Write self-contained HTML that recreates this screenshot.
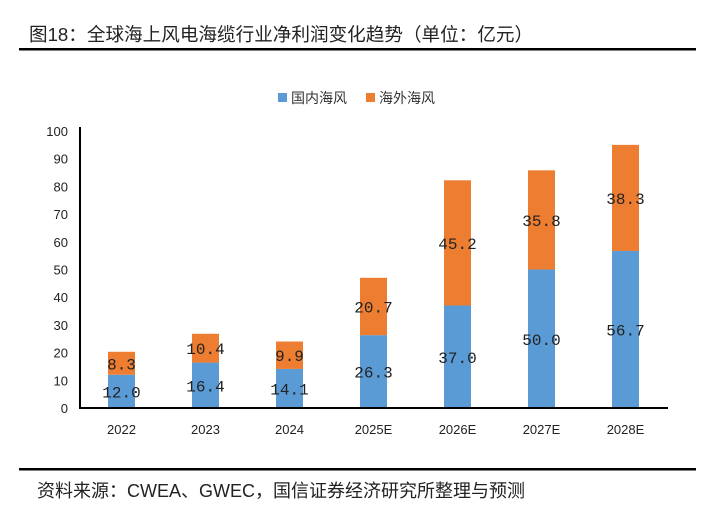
<!DOCTYPE html>
<html><head><meta charset="utf-8"><style>
body{margin:0;background:#fff;}
svg text{font-family:"Liberation Sans","Noto Sans CJK SC",sans-serif;}
svg text.val{font-family:"Liberation Mono",monospace;}
</style></head><body>
<svg width="714" height="516" xmlns="http://www.w3.org/2000/svg">
<text x="29" y="41" font-size="18.6" fill="#222">图18：全球海上风电海缆行业净利润变化趋势（单位：亿元）</text>
<rect x="19" y="48" width="677" height="2.5" fill="#000"/>
<g>
<rect x="278" y="93" width="9" height="9" fill="#5b9bd5"/>
<text x="291" y="103" font-size="14" fill="#333">国内海风</text>
<rect x="366" y="93" width="9" height="9" fill="#ed7d31"/>
<text x="379" y="103" font-size="14" fill="#333">海外海风</text>
</g>
<g id="plot"></g>
<rect x="19" y="468" width="677" height="2.5" fill="#000"/>
<text x="37" y="497" font-size="18" fill="#222">资料来源：CWEA、GWEC，国信证券经济研究所整理与预测</text>
</svg>
<script>
const categories=["2022","2023","2024","2025E","2026E","2027E","2028E"];
const domestic=[12.0,16.4,14.1,26.3,37.0,50.0,56.7];
const overseas=[8.3,10.4,9.9,20.7,45.2,35.8,38.3];
const yTicks=[0,10,20,30,40,50,60,70,80,90,100];
const NS="http://www.w3.org/2000/svg";
const g=document.getElementById('plot');
const x0=80,step=84,bw=27,y0=408,yTop=131;
function y(v){return y0-(v/100)*(y0-yTop);}
function xc(i){return x0+step*(i+0.5)-0.5;}
function mk(t,a){const e=document.createElementNS(NS,t);for(const k in a)e.setAttribute(k,a[k]);g.appendChild(e);return e;}
yTicks.forEach(v=>{
 const t=mk('text',{x:68,y:y(v)+5,'font-size':13,fill:'#222','text-anchor':'end'});
 t.textContent=v;
 
 
});
categories.forEach((c,i)=>{
 const cx=xc(i);
 const b1=mk('rect',{x:cx-bw/2,y:y(domestic[i]),width:bw,height:y0-y(domestic[i]),fill:'#5b9bd5'});
 
 
 const top=domestic[i]+overseas[i];
 const b2=mk('rect',{x:cx-bw/2,y:y(top),width:bw,height:y(domestic[i])-y(top),fill:'#ed7d31'});
 
 
 const l1=mk('text',{class:'val',x:cx,y:(y0+y(domestic[i]))/2+6,'font-size':16,fill:'#222','text-anchor':'middle'});
 l1.textContent=domestic[i].toFixed(1);
 
 
 const l2=mk('text',{class:'val',x:cx,y:(y(domestic[i])+y(top))/2+6,'font-size':16,fill:'#222','text-anchor':'middle'});
 l2.textContent=overseas[i].toFixed(1);
 
 
 const xl=mk('text',{x:cx,y:434,'font-size':13,fill:'#222','text-anchor':'middle'});
 xl.textContent=c;
 
 
});
const ya=mk('line',{x1:x0,y1:yTop-4,x2:x0,y2:y0+1,stroke:'#000','stroke-width':2});


const xa=mk('line',{x1:x0-1,y1:y0,x2:x0+step*7,y2:y0,stroke:'#000','stroke-width':2});


</script>
</body></html>
